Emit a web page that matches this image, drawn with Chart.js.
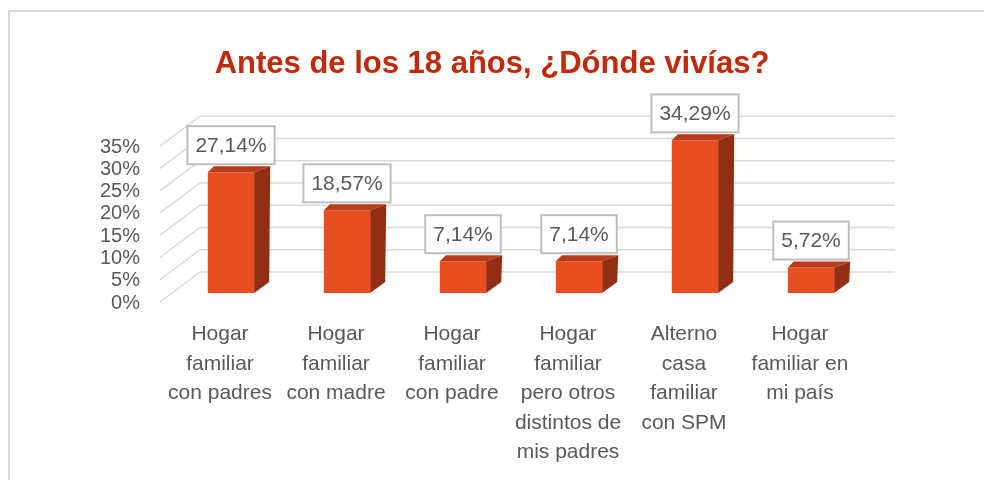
<!DOCTYPE html>
<html>
<head>
<meta charset="utf-8">
<script src="https://cdn.jsdelivr.net/npm/chart.js@4.4.0/dist/chart.umd.min.js"></script>
<style>
  html, body { margin: 0; padding: 0; background: #fff; }
  .frame {
    position: absolute; left: 8px; top: 10px; width: 990px; height: 480px;
    border-left: 2px solid #D9D9D9; border-top: 2px solid #D9D9D9;
  }
  #chart { position: absolute; left: 0; top: 0; }
</style>
</head>
<body>
<div class="frame"></div>
<canvas id="chart" width="984" height="480"></canvas>
<script>
// --- DATA ---
const categories = [
  ['Hogar', 'familiar', 'con padres'],
  ['Hogar', 'familiar', 'con madre'],
  ['Hogar', 'familiar', 'con padre'],
  ['Hogar', 'familiar', 'pero otros', 'distintos de', 'mis padres'],
  ['Alterno', 'casa', 'familiar', 'con SPM'],
  ['Hogar', 'familiar en', 'mi país']
];
const values = [27.14, 18.57, 7.14, 7.14, 34.29, 5.72];
const yMax = 35;
const yStep = 5;

const FONT = "'Liberation Sans', Arial, sans-serif";

function fmt(v) {
  return v.toFixed(2).replace('.', ',') + '%';
}

// --- 3D FLOOR / WALL GRIDLINES ---
const gridPlugin = {
  id: 'grid3d',
  beforeDatasetsDraw(chart) {
    const { ctx, chartArea, scales } = chart;
    const y = scales.y;
    ctx.save();
    ctx.strokeStyle = '#D9D9D9';
    ctx.lineWidth = 1.5;
    y.ticks.forEach(t => {
      const py = y.getPixelForValue(t.value);
      ctx.beginPath();
      ctx.moveTo(chartArea.left - 13, py + 9);
      ctx.lineTo(chartArea.left + 27, py - 21);
      ctx.lineTo(chartArea.right + 26, py - 21);
      ctx.stroke();
    });
    ctx.restore();
  }
};

// --- 3D BAR FACES + VALUE BOXES ---
const barPlugin = {
  id: 'bar3d',
  afterDatasetsDraw(chart) {
    const { ctx } = chart;
    const meta = chart.getDatasetMeta(0);
    ctx.save();
    meta.data.forEach((bar, i) => {
      const l = bar.x - bar.width / 2;
      const r = bar.x + bar.width / 2;
      const top = bar.y;
      const base = bar.base;

      // top face
      ctx.fillStyle = '#B83B1B';
      ctx.beginPath();
      ctx.moveTo(l, top);
      ctx.lineTo(r, top);
      ctx.lineTo(r + 16, top - 6);
      ctx.lineTo(l + 6, top - 6);
      ctx.closePath();
      ctx.fill();

      // side face
      ctx.fillStyle = '#912E13';
      ctx.beginPath();
      ctx.moveTo(r, top);
      ctx.lineTo(r + 16, top - 6);
      ctx.lineTo(r + 15, base - 11);
      ctx.lineTo(r, base);
      ctx.closePath();
      ctx.fill();

      // value box
      const txt = fmt(values[i]);
      ctx.font = '21px ' + FONT;
      const tw = ctx.measureText(txt).width;
      const bw = tw + 16, bh = 38;
      const bx = bar.x - bw / 2, by = top - 8 - bh;
      ctx.fillStyle = '#fff';
      ctx.fillRect(bx, by, bw, bh);
      ctx.strokeStyle = '#BFBFBF';
      ctx.lineWidth = 2;
      ctx.strokeRect(bx, by, bw, bh);
      ctx.fillStyle = '#595959';
      ctx.textAlign = 'center';
      ctx.textBaseline = 'middle';
      ctx.fillText(txt, bar.x, by + bh / 2 + 1);
    });
    ctx.restore();
  }
};

const ctx = document.getElementById('chart').getContext('2d');

const chart = new Chart(ctx, {
  type: 'bar',
  data: {
    labels: categories,
    datasets: [{
      data: values,
      backgroundColor: '#E84E22',
      borderWidth: 0,
      categoryPercentage: 1,
      barPercentage: 0.4
    }]
  },
  options: {
    responsive: false,
    animation: false,
    layout: { padding: 0 },
    plugins: {
      legend: { display: false },
      tooltip: { enabled: false },
      title: {
        display: true,
        text: 'Antes de los 18 años, ¿Dónde vivías?',
        color: '#C0290A',
        font: { family: FONT, size: 31, weight: 'bold', lineHeight: 1.2 },
        padding: { top: 46, bottom: 54 }
      }
    },
    scales: {
      x: {
        grid: { display: false },
        border: { display: false },
        ticks: {
          color: '#595959',
          font: { family: FONT, size: 21, lineHeight: 1.4 },
          labelOffset: -11,
          padding: 19,
          maxRotation: 0,
          minRotation: 0,
          autoSkip: false
        },
        afterFit(s) { s.height = 187; }
      },
      y: {
        min: 0,
        max: yMax,
        grid: { display: false },
        border: { display: false },
        ticks: {
          stepSize: yStep,
          autoSkip: false,
          color: '#595959',
          font: { family: FONT, size: 20 },
          labelOffset: 10,
          padding: 25,
          callback: v => v + '%'
        },
        afterFit(s) { s.width = 173; }
      },
      y2: {
        position: 'right',
        display: true,
        grid: { display: false },
        border: { display: false },
        ticks: { display: false },
        afterFit(s) { s.width = 115; }
      }
    }
  },
  plugins: [gridPlugin, barPlugin]
});
</script>
</body>
</html>
